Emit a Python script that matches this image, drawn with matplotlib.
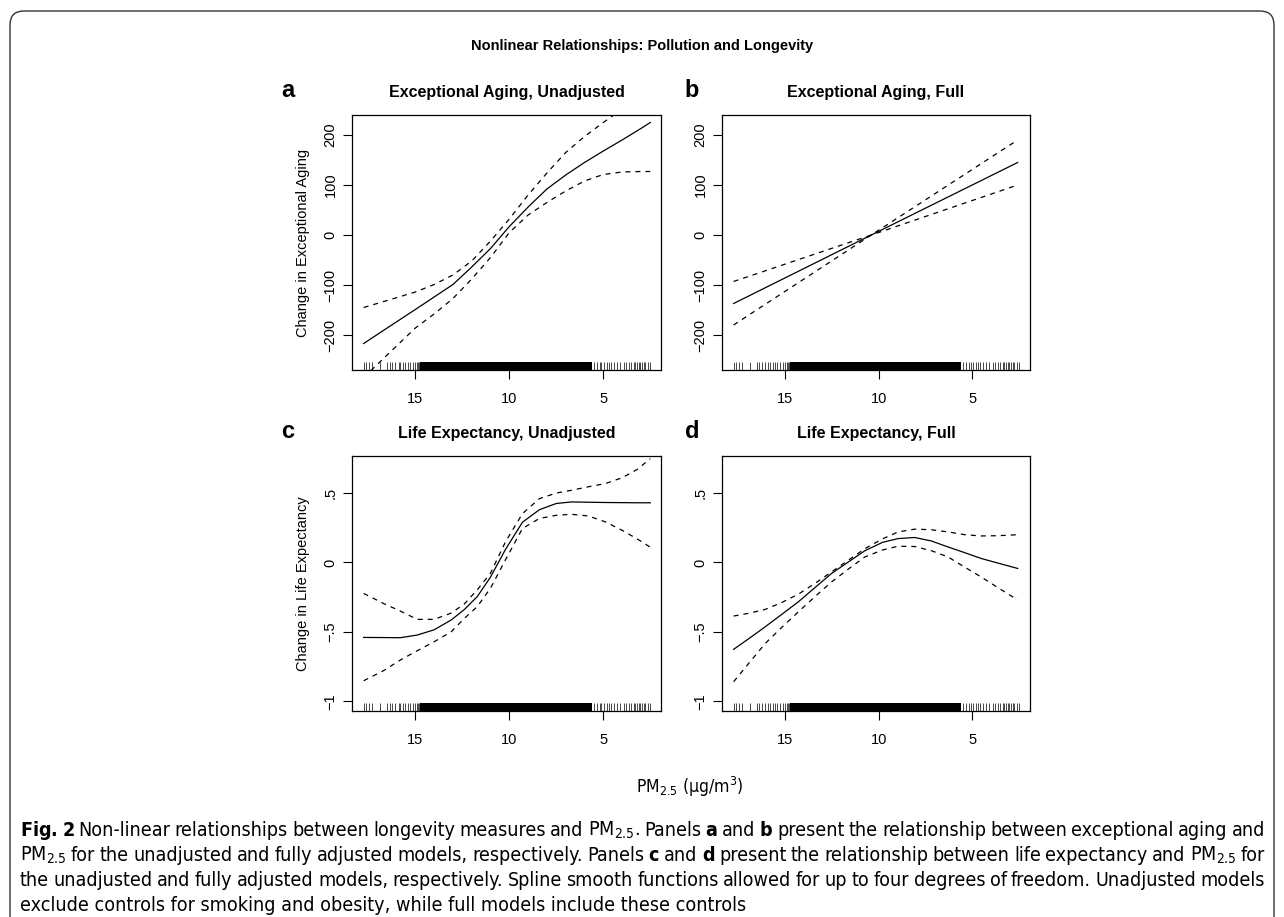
import numpy as np
import matplotlib.pyplot as plt
from matplotlib import font_manager
from matplotlib.patches import FancyBboxPatch

# ---- data ----
# panel a: Exceptional Aging, Unadjusted
xa = [17.75, 16.5, 15.0, 14.0, 13.0, 12.0, 11.0, 10.0, 9.0, 8.0, 7.0, 6.0, 5.0, 4.0, 3.0, 2.5]
fit_a = [-217, -186, -149, -124, -99, -64, -27, 17, 56, 92, 120, 145, 168, 190, 213, 225]
upper_a = [-145, -131, -114, -99, -80, -52, -12, 32, 80, 124, 165, 197, 225, 252, 275, 287]
lower_a = [-285, -240, -186, -158, -127, -88, -45, 5, 40, 65, 88, 108, 121, 126, 127, 127]

# panel b: Exceptional Aging, Full
xb = [17.75, 10.4, 2.59]
fit_b = [-137, 0, 145]
upper_b = [-93, 0, 190]
lower_b = [-180, 0, 100]

# panel c: Life Expectancy, Unadjusted
xc = [17.75, 16.7, 15.8, 14.9, 14.0, 13.1, 12.4, 11.7, 11.0, 10.2, 9.3, 8.4, 7.5, 6.7, 5.8, 4.9, 4.0, 3.2, 2.5]
fit_c = [-0.54, -0.541, -0.542, -0.523, -0.485, -0.415, -0.34, -0.245, -0.105, 0.095, 0.29, 0.38, 0.425,
         0.436, 0.434, 0.432, 0.431, 0.43, 0.43]
upper_c = [-0.223, -0.295, -0.35, -0.41, -0.41, -0.365, -0.30, -0.196, -0.077, 0.15, 0.352, 0.46, 0.50,
           0.52, 0.545, 0.568, 0.61, 0.67, 0.748]
lower_c = [-0.852, -0.78, -0.703, -0.636, -0.571, -0.50, -0.404, -0.317, -0.185, 0.02, 0.245, 0.317, 0.34,
           0.347, 0.335, 0.293, 0.232, 0.17, 0.11]

# panel d: Life Expectancy, Full
xd = [17.75, 16.9, 16.06, 15.2, 14.29, 13.4, 12.52, 11.6, 10.74, 9.8, 8.97, 8.09, 7.2, 6.31, 5.4, 4.54, 3.6, 2.59]
fit_d = [-0.626, -0.545, -0.463, -0.376, -0.283, -0.18, -0.079, 0.006, 0.085, 0.145, 0.172, 0.18, 0.155,
         0.112, 0.07, 0.029, -0.006, -0.043]
upper_d = [-0.386, -0.365, -0.338, -0.29, -0.228, -0.15, -0.068, 0.019, 0.1, 0.17, 0.22, 0.24, 0.236,
           0.22, 0.2, 0.191, 0.193, 0.2]
lower_d = [-0.859, -0.72, -0.583, -0.47, -0.355, -0.245, -0.14, -0.045, 0.04, 0.09, 0.117, 0.115, 0.085,
           0.04, -0.035, -0.104, -0.185, -0.27]

# rug of PM2.5 observations (sparse ends, solid block in the middle)
rug_left = [17.75, 17.62, 17.48, 17.3, 16.86, 16.51, 16.37, 16.24, 16.06, 15.89, 15.8, 15.65, 15.53,
            15.41, 15.27, 15.12, 15.0, 14.92, 14.85, 14.78]
rug_block = (14.75, 5.6)
rug_right = [5.5, 5.35, 5.2, 5.1, 4.95, 4.8, 4.7, 4.6, 4.45, 4.27, 4.1, 3.92, 3.78,
             3.65, 3.53, 3.39, 3.3, 3.21, 3.12, 3.03, 2.94, 2.85, 2.77, 2.62, 2.5]

x_ticks = [15, 10, 5]
ea_ticks = [-200, -100, 0, 100, 200]
ea_labels = ['\u2212200', '\u2212100', '0', '100', '200']
le_ticks = [-1, -0.5, 0, 0.5]
le_labels = ['\u22121', '\u2212.5', '0', '.5']

titles = ['Exceptional Aging, Unadjusted', 'Exceptional Aging, Full',
          'Life Expectancy, Unadjusted', 'Life Expectancy, Full']

# ---- fonts ----
# the caption font is a condensed sans; use a condensed face if one is installed
cap_family, cap_stretch = 'Liberation Sans', 'normal'
for f in font_manager.fontManager.ttflist:
    if f.name == 'Liberation Sans Narrow':
        cap_family, cap_stretch = 'Liberation Sans Narrow', 'normal'
        break
    if f.name == 'DejaVu Sans' and f.stretch in ('condensed', 'semi-condensed'):
        cap_family, cap_stretch = 'DejaVu Sans', 'condensed'

plt.rcParams['font.family'] = ['Liberation Sans', 'DejaVu Sans']
plt.rcParams['mathtext.fontset'] = 'custom'
stretch_tag = ':stretch=condensed' if cap_stretch == 'condensed' else ''
plt.rcParams['mathtext.rm'] = cap_family + stretch_tag
plt.rcParams['mathtext.bf'] = cap_family + ':bold' + stretch_tag
plt.rcParams['mathtext.it'] = cap_family + ':italic' + stretch_tag
cap_size = 14.1 if cap_stretch == 'condensed' else 12.3

W, H = 1284, 917
fig = plt.figure(figsize=(W / 100, H / 100), dpi=100)

# rounded frame (bottom edge runs off the page)
frame = FancyBboxPatch((0.10, -0.3), 12.64, 9.36, boxstyle='round,pad=0,rounding_size=0.14',
                       transform=fig.dpi_scale_trans, fill=False, ec='#333333', lw=1.0)
fig.patches.append(frame)

def px_rect(left, top, right, bottom):
    return [left / W, 1 - bottom / H, (right - left) / W, (bottom - top) / H]

axes_pos = [px_rect(352, 115, 661, 370), px_rect(722, 115, 1030, 370),
            px_rect(352, 456, 661, 711), px_rect(722, 456, 1030, 711)]
panel_data = [(xa, fit_a, upper_a, lower_a), (xb, fit_b, upper_b, lower_b),
              (xc, fit_c, upper_c, lower_c), (xd, fit_d, upper_d, lower_d)]

for i, pos in enumerate(axes_pos):
    ax = fig.add_axes(pos)
    x, fit, up, lo = panel_data[i]
    ax.plot(x, fit, color='black', lw=0.9)
    ax.plot(x, up, color='black', lw=0.9, ls=(0, (4, 4)))
    ax.plot(x, lo, color='black', lw=0.9, ls=(0, (4, 4)))

    # rug
    trans = ax.get_xaxis_transform()
    ax.vlines(rug_left + rug_right, 0, 0.03, transform=trans, color='black', lw=0.5)
    ax.axvspan(rug_block[0], rug_block[1], ymin=0, ymax=0.03, color='black', lw=0)

    ax.set_xlim(18.37, 1.93)
    ax.set_xticks(x_ticks)
    ax.set_xticklabels([str(t) for t in x_ticks])
    if i < 2:
        ax.set_ylim(-270, 240)
        ax.set_yticks(ea_ticks)
        ax.set_yticklabels(ea_labels)
    else:
        ax.set_ylim(-1.07, 0.767)
        ax.set_yticks(le_ticks)
        ax.set_yticklabels(le_labels)

    ax.tick_params(direction='out', length=6.5, width=0.8, labelsize=10.5, color='black')
    ax.tick_params(axis='x', pad=9)
    ax.tick_params(axis='y', pad=4, labelrotation=90)
    for lab in ax.get_yticklabels():
        lab.set_va('center')
    for s in ax.spines.values():
        s.set_linewidth(0.9)
    ax.set_title(titles[i], fontsize=11.5, fontweight='bold', pad=13)

    if i == 0:
        ax.set_ylabel('Change in Exceptional Aging', fontsize=10.5)
    if i == 2:
        ax.set_ylabel('Change in Life Expectancy', fontsize=10.5)
    if i in (0, 2):
        ax.yaxis.set_label_coords((310 - 352) / 309, 0.5)

# panel letters
for letter, (lx, ly) in zip('abcd', [(288, 97), (692, 97), (288, 438), (692, 438)]):
    fig.text(lx / W, 1 - ly / H, letter, fontsize=17, fontweight='bold', ha='center', va='baseline')

fig.text(0.5, 1 - 50 / H, 'Nonlinear Relationships: Pollution and Longevity',
         fontsize=10.5, fontweight='bold', ha='center', va='baseline')

fig.text(690 / W, 1 - 793 / H, r'PM$_{2.5}$ (μg/m$^{3}$)', family=cap_family, stretch=cap_stretch,
         fontsize=cap_size - 1.5, ha='center', va='baseline')

# caption, justified line by line
cap_lines = [
    r'$\mathbf{Fig.}$ $\mathbf{2}$ Non-linear relationships between longevity measures and PM$_{2.5}$. Panels $\mathbf{a}$ and $\mathbf{b}$ present the relationship between exceptional aging and',
    r'PM$_{2.5}$ for the unadjusted and fully adjusted models, respectively. Panels $\mathbf{c}$ and $\mathbf{d}$ present the relationship between life expectancy and PM$_{2.5}$ for',
    r'the unadjusted and fully adjusted models, respectively. Spline smooth functions allowed for up to four degrees of freedom. Unadjusted models',
    r'exclude controls for smoking and obesity, while full models include these controls',
]
cap_y = [836, 861, 886, 911]
cap_left, cap_right = 20, 1265
renderer = fig.canvas.get_renderer()
for k, line in enumerate(cap_lines):
    if k == len(cap_lines) - 1:
        fig.text(cap_left / W, 1 - cap_y[k] / H, line, family=cap_family, stretch=cap_stretch,
                 fontsize=cap_size, va='baseline')
        continue
    words = line.split(' ')
    txts = [fig.text(0, 1 - cap_y[k] / H, w, family=cap_family, stretch=cap_stretch,
                     fontsize=cap_size, va='baseline') for w in words]
    widths = [t.get_window_extent(renderer).width for t in txts]
    gap = (cap_right - cap_left - sum(widths)) / (len(words) - 1)
    xpos = cap_left
    for t, w in zip(txts, widths):
        t.set_x(xpos / W)
        xpos += w + gap

fig.savefig('out.png', dpi=100)
